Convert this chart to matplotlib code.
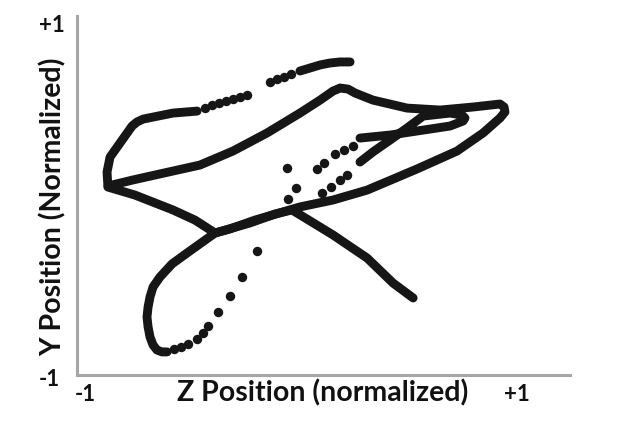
import matplotlib
matplotlib.use('Agg')
import matplotlib.pyplot as plt

# --- Data (normalized positions) ---
# continuous stretches of the trace
main_z = [-0.481, -0.593, -0.731, -0.759, -0.782, -0.838, -0.884, -0.898, -0.894,
          -0.778, -0.653, -0.468, -0.315, -0.157, -0.005, 0.088, 0.148, 0.181,
          0.218, 0.250, 0.333, 0.491, 0.644, 0.796, 0.921, 0.940, 0.944, 0.921,
          0.843, 0.722, 0.537, 0.306, 0.148, -0.005, -0.213, -0.329, -0.398,
          -0.528, -0.597, -0.653, -0.685, -0.699, -0.708, -0.713, -0.708,
          -0.699, -0.685, -0.667, -0.644, -0.620]
main_y = [0.515, 0.504, 0.470, 0.454, 0.431, 0.335, 0.256, 0.172, 0.093,
          0.127, 0.161, 0.211, 0.290, 0.392, 0.504, 0.577, 0.628, 0.645,
          0.639, 0.617, 0.577, 0.532, 0.521, 0.538, 0.555, 0.538, 0.510, 0.476,
          0.392, 0.290, 0.189, 0.070, 0.014, -0.025, -0.099, -0.149, -0.172,
          -0.285, -0.346, -0.420, -0.476, -0.532, -0.589, -0.645, -0.701,
          -0.758, -0.803, -0.831, -0.842, -0.842]

cross_z = [-0.894, -0.769, -0.593, -0.491, -0.398, -0.236, -0.120, -0.042,
           0.042, 0.148, 0.306, 0.426, 0.519]
cross_y = [0.087, 0.042, -0.042, -0.099, -0.172, -0.115, -0.065, -0.042,
           -0.104, -0.183, -0.313, -0.454, -0.538]

loop_z = [0.273, 0.412, 0.565, 0.690, 0.750, 0.759, 0.745, 0.690, 0.565,
          0.491, 0.412, 0.333, 0.273]
loop_y = [0.363, 0.380, 0.408, 0.431, 0.459, 0.476, 0.493, 0.504, 0.487,
          0.420, 0.352, 0.285, 0.228]

top_z = [-0.005, 0.042, 0.088, 0.134, 0.181, 0.227]
top_y = [0.741, 0.758, 0.775, 0.786, 0.792, 0.792]

# sparse stretches (separate dots)
dots_z = [-0.144, -0.111, -0.079, -0.046,
          -0.250, -0.282, -0.315, -0.347, -0.380, -0.412, -0.444,
          -0.588, -0.556, -0.523, -0.481, -0.454, -0.431, -0.384, -0.329,
          -0.273, -0.204, -0.060, -0.023, 0.074, 0.106, 0.157, 0.199, 0.241,
          0.213, 0.181, 0.139, 0.097,
          -0.065]
dots_y = [0.679, 0.696, 0.707, 0.724,
          0.606, 0.594, 0.583, 0.572, 0.561, 0.549, 0.532,
          -0.825, -0.814, -0.797, -0.769, -0.735, -0.696, -0.617, -0.527,
          -0.420, -0.273, 0.020, 0.082, 0.188, 0.222, 0.273, 0.296, 0.318,
          0.155, 0.127, 0.087, 0.054,
          0.194]

tick_text = ['-1', '+1']

# --- Figure & axes ---
fig = plt.figure(figsize=(6.17, 4.23), dpi=100)
ax = fig.add_axes([0.1248, 0.1135, 0.799, 0.8487])
ax.set_xlim(-1.037, 1.245)
ax.set_ylim(-0.972, 1.051)

ink = '#161616'
for zs, ys in [(main_z, main_y), (cross_z, cross_y), (loop_z, loop_y), (top_z, top_y)]:
    ax.plot(zs, ys, '-', color=ink, lw=6.4, solid_capstyle='round',
            solid_joinstyle='round')
ax.plot(dots_z, dots_y, 'o', color=ink, markersize=6.8, markeredgewidth=0)

# --- Spines & ticks ---
for side in ['top', 'right']:
    ax.spines[side].set_visible(False)
for side in ['left', 'bottom']:
    ax.spines[side].set_color('#a6a6a6')
    ax.spines[side].set_linewidth(2.2)
ax.set_xticks([])
ax.set_yticks([])

font = dict(family='Lato', weight='bold', color='#111111')
ax.text(-1.0, -1.08, tick_text[0], ha='center', va='center', fontsize=16,
        clip_on=False, **font)
ax.text(1.0, -1.08, tick_text[1], ha='center', va='center', fontsize=16,
        clip_on=False, **font)
ax.text(-1.155, 1.0, tick_text[1], ha='center', va='center', fontsize=16,
        clip_on=False, **font)
ax.text(-1.165, -1.0, tick_text[0], ha='center', va='center', fontsize=16,
        clip_on=False, **font)

fig.text(323 / 617, 1 - 393 / 423, 'Z Position (normalized)', ha='center',
         va='center', fontsize=20.5, **font)
fig.text(53 / 617, 1 - 207 / 423, 'Y Position (Normalized)', ha='center',
         va='center', rotation=90, fontsize=20.5, **font)

fig.savefig('out.png', dpi=100)
